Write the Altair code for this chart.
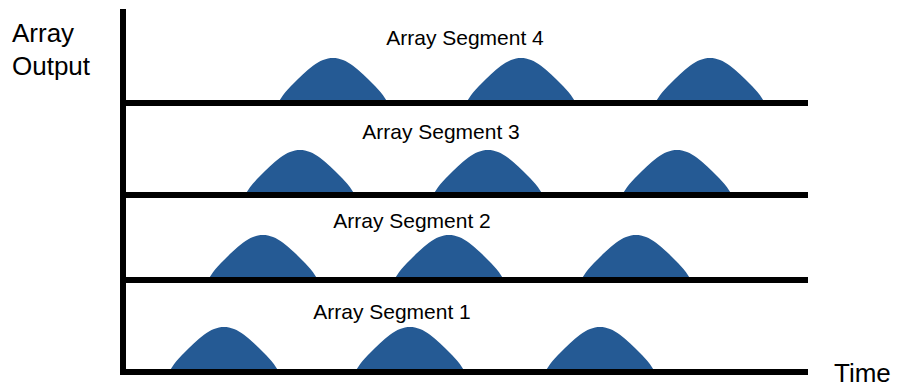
import altair as alt
import pandas as pd

# ---- data (time units ~ px from the vertical axis) ----
segments = ["Array Segment 1", "Array Segment 2", "Array Segment 3", "Array Segment 4"]
baselines = [0, 92, 177, 269]                       # output level of each segment's baseline
hump_centers = [[101, 287, 477],                   # segment 1
                [140, 326, 513],                   # segment 2
                [177, 365, 554],                   # segment 3
                [210, 398, 587]]                   # segment 4
hump_height = 45
# hump profile: offset from peak (time) and relative output
profile_offsets = [-55, -50, -40, -30, -20, -10, -5, 0, 5, 10, 20, 30, 40, 50, 55]
profile_levels = [0.0, 0.17, 0.42, 0.64, 0.83, 0.955, 0.99, 1.0, 0.99, 0.955, 0.83, 0.64, 0.42, 0.17, 0.0]

label_x = [269, 289, 318, 342]
label_y = [53, 144, 233, 327]

time_end = 685
axis_top = 363
axis_bottom = -3

W, H = 885, 380
x_dom = [-115, 770]
y_dom = [-16, 364]

# ---- build tables ----
rows = []
for s, (seg, base) in enumerate(zip(segments, baselines)):
    for h, c in enumerate(hump_centers[s]):
        for off, lvl in zip(profile_offsets, profile_levels):
            rows.append({"hump": f"{s}-{h}", "t": c + off,
                         "y": base + hump_height * lvl, "base": base})
humps = pd.DataFrame(rows)

base_df = pd.DataFrame({"x": [0] * 4, "x2": [time_end] * 4, "y": baselines})
vaxis_df = pd.DataFrame({"x": [0], "y": [axis_bottom], "y2": [axis_top]})
labels_df = pd.DataFrame({"t": label_x, "y": label_y, "text": segments})
ytitle_df = pd.DataFrame({"t": [-111, -111], "y": [330, 297], "text": ["Array", "Output"]})
xtitle_df = pd.DataFrame({"t": [711], "y": [-10], "text": ["Time"]})

xs = alt.Scale(domain=x_dom, nice=False, zero=False)
ys = alt.Scale(domain=y_dom, nice=False, zero=False)

area = alt.Chart(humps).mark_area(color="#255A94", interpolate="monotone").encode(
    x=alt.X("t:Q", scale=xs, axis=None),
    y=alt.Y("y:Q", scale=ys, axis=None),
    y2="base:Q",
    detail="hump:N",
)

hlines = alt.Chart(base_df).mark_rule(color="black", strokeWidth=6).encode(
    x=alt.X("x:Q", scale=xs, axis=None), x2="x2:Q",
    y=alt.Y("y:Q", scale=ys, axis=None),
)

vline = alt.Chart(vaxis_df).mark_rule(color="black", strokeWidth=6).encode(
    x=alt.X("x:Q", scale=xs, axis=None),
    y=alt.Y("y:Q", scale=ys, axis=None), y2="y2:Q",
)

seg_text = alt.Chart(labels_df).mark_text(
    font="Liberation Sans", fontSize=21, align="center", baseline="alphabetic", color="black"
).encode(
    x=alt.X("t:Q", scale=xs, axis=None),
    y=alt.Y("y:Q", scale=ys, axis=None),
    text="text:N",
)

ytitle = alt.Chart(ytitle_df).mark_text(
    font="Liberation Sans", fontSize=26, align="left", baseline="alphabetic", color="black"
).encode(
    x=alt.X("t:Q", scale=xs, axis=None),
    y=alt.Y("y:Q", scale=ys, axis=None),
    text="text:N",
)

xtitle = alt.Chart(xtitle_df).mark_text(
    font="Liberation Sans", fontSize=26, align="left", baseline="alphabetic", color="black"
).encode(
    x=alt.X("t:Q", scale=xs, axis=None),
    y=alt.Y("y:Q", scale=ys, axis=None),
    text="text:N",
)

chart = alt.layer(area, hlines, vline, seg_text, ytitle, xtitle).properties(
    width=W, height=H,
    autosize=alt.AutoSizeParams(type="none"),
    padding=0,
    background="white",
).configure_view(stroke=None)

chart.save("out.html", embed_options={"renderer": "svg", "actions": False})
